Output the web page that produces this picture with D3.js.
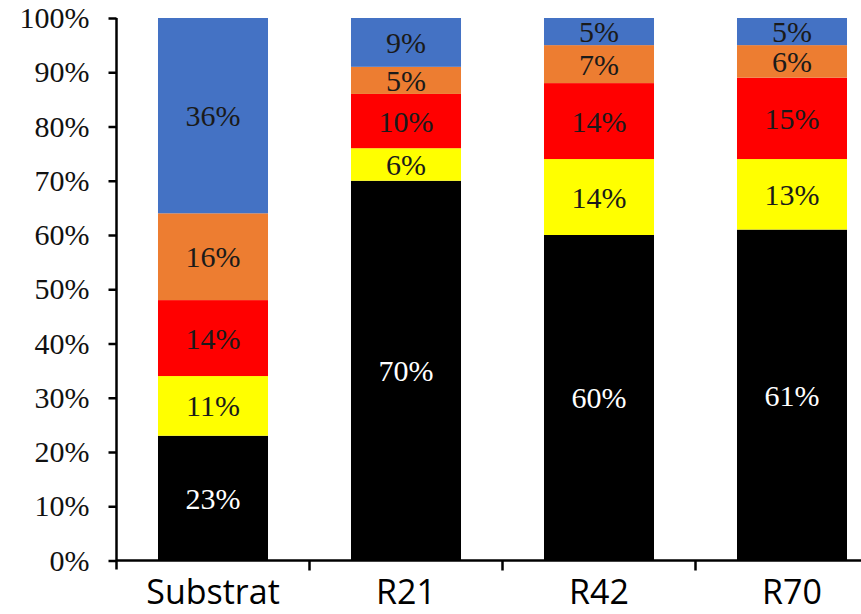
<!DOCTYPE html>
<html>
<head>
<meta charset="utf-8">
<script src="https://cdn.jsdelivr.net/npm/d3@7"></script>
<style>
  html, body { margin: 0; padding: 0; background: #fff; }
  svg { display: block; }
</style>
</head>
<body>
<svg id="chart" width="861" height="614"></svg>
<script>
// Samples along the x axis
const categories = ["Substrat", "R21", "R42", "R70"];

// Share of each fraction per sample (percent), stacked bottom to top
const seriesKeys = ["black", "yellow", "red", "orange", "blue"];
const blackValues  = [23, 70, 60, 61];
const yellowValues = [11, 6, 14, 13];
const redValues    = [14, 10, 14, 15];
const orangeValues = [16, 5, 7, 6];
const blueValues   = [36, 9, 5, 5];

const yTicks = [0, 10, 20, 30, 40, 50, 60, 70, 80, 90, 100];

const colors = {
  black: "#000000",
  yellow: "#FFFF00",
  red: "#FF0000",
  orange: "#ED7D31",
  blue: "#4472C4"
};
const labelColors = {
  black: "#ffffff",
  yellow: "#1a1a1a",
  red: "#1a1a1a",
  orange: "#1a1a1a",
  blue: "#1a1a1a"
};

const rows = categories.map((c, i) => ({
  category: c,
  black: blackValues[i],
  yellow: yellowValues[i],
  red: redValues[i],
  orange: orangeValues[i],
  blue: blueValues[i]
}));

const svg = d3.select("#chart");
const x0 = 116.5, x1 = 888.5;
const yBase = 560.5, yTop = 18;

const x = d3.scaleBand().domain(categories).range([x0, x1]).paddingInner(0.43).paddingOuter(0.215);
const y = d3.scaleLinear().domain([0, 100]).range([yBase, yTop]);

const stacked = d3.stack().keys(seriesKeys)(rows);

// Bars
const layers = svg.append("g").selectAll("g")
  .data(stacked).join("g")
  .attr("fill", d => colors[d.key]);

layers.selectAll("rect")
  .data(d => d.map(p => ({ p, key: d.key })))
  .join("rect")
  .attr("x", d => x(d.p.data.category))
  .attr("width", x.bandwidth())
  .attr("y", d => y(d.p[1]))
  .attr("height", d => y(d.p[0]) - y(d.p[1]));

// Segment value labels
const labels = svg.append("g")
  .attr("font-family", "'Liberation Serif', 'Times New Roman', serif")
  .attr("font-size", 30)
  .attr("text-anchor", "middle");

stacked.forEach(layer => {
  layer.forEach(p => {
    const v = p[1] - p[0];
    labels.append("text")
      .attr("x", x(p.data.category) + x.bandwidth() / 2)
      .attr("y", (y(p[0]) + y(p[1])) / 2)
      .attr("dy", "0.35em")
      .attr("fill", labelColors[layer.key])
      .text(v + "%");
  });
});

// Y axis
const yAxis = d3.axisLeft(y)
  .tickValues(yTicks)
  .tickFormat(d => d + "%")
  .tickSize(8)
  .tickPadding(19)
  .tickSizeOuter(0);

const gy = svg.append("g")
  .attr("transform", `translate(${x0},0)`)
  .call(yAxis);
gy.select(".domain").attr("stroke", "#000").attr("stroke-width", 2.5)
  .attr("d", `M0,${yTop}V${yBase + 9}`);
gy.selectAll(".tick line").attr("stroke", "#000").attr("stroke-width", 2.5);
gy.selectAll(".tick text")
  .attr("font-family", "'Liberation Serif', 'Times New Roman', serif")
  .attr("font-size", 30)
  .attr("fill", "#111");

// X axis baseline with ticks at band boundaries
const gx = svg.append("g");
gx.append("line")
  .attr("x1", x0).attr("x2", x1)
  .attr("y1", yBase).attr("y2", yBase)
  .attr("stroke", "#000").attr("stroke-width", 2.5);

const step = x.step();
const boundaries = categories.slice(1).map(c => x(c) - (step - x.bandwidth()) / 2);
gx.selectAll("line.tick")
  .data(boundaries).join("line")
  .attr("class", "tick")
  .attr("x1", d => d).attr("x2", d => d)
  .attr("y1", yBase).attr("y2", yBase + 10)
  .attr("stroke", "#000").attr("stroke-width", 2.5);

gx.selectAll("text")
  .data(categories).join("text")
  .attr("x", d => x(d) + x.bandwidth() / 2)
  .attr("y", 604)
  .attr("text-anchor", "middle")
  .attr("font-family", "'Open Sans', 'Noto Sans', sans-serif")
  .attr("font-size", 34)
  .attr("fill", "#000")
  .text(d => d);
</script>
</body>
</html>
